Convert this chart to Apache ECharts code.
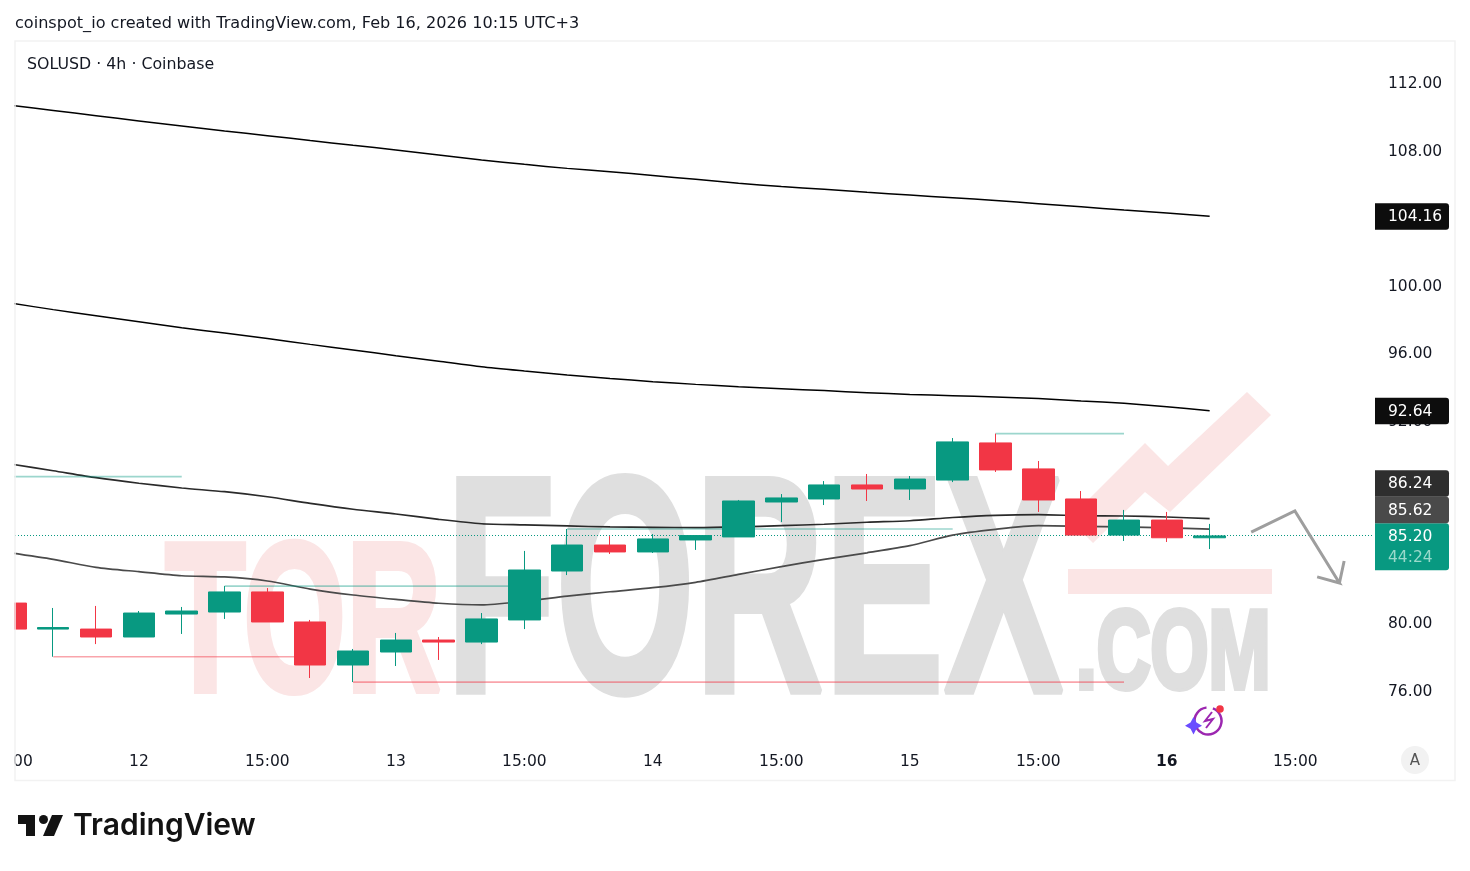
<!DOCTYPE html>
<html><head><meta charset="utf-8">
<style>html,body{margin:0;padding:0;background:#fff}#c{width:1470px;height:871px}</style>
<script src="https://cdn.jsdelivr.net/npm/echarts@6/dist/echarts.min.js"></script>
</head><body><div id="c"></div>
<script>
const FONT = '"DejaVu Sans"';
const FS = 15.5;
const tickLabels = ['15:00','','','12','','','15:00','','','13','','','15:00','','','14','','','15:00','','','15','','','15:00','','','16','','','15:00',''];
// candles: [open, close, low, high]
const candles = [
[81.24,79.70,79.70,81.24],[79.70,79.79,78.06,80.95],[79.70,79.23,78.81,81.07],[79.23,80.65,79.23,80.77],
[80.59,80.77,79.41,81.01],[80.71,81.90,80.30,82.25],[81.90,80.12,80.12,82.13],[80.12,77.57,76.80,80.24],
[77.57,78.40,76.56,78.52],[78.34,79.05,77.51,79.47],[79.05,78.93,77.87,79.23],[78.93,80.30,78.81,80.65],
[80.24,83.20,79.70,84.33],[83.14,84.68,82.90,85.63],[84.68,84.27,84.15,85.21],[84.27,85.04,84.21,85.33],
[84.98,85.24,84.39,85.27],[85.16,87.29,85.16,87.35],[87.23,87.47,86.04,87.70],[87.41,88.24,87.05,88.47],
[88.24,88.00,87.29,88.89],[88.00,88.59,87.35,88.77],[88.53,90.79,88.41,91.02],[90.73,89.13,89.01,91.28],
[89.19,87.35,86.64,89.66],[87.41,85.27,85.27,87.88],[85.27,86.16,84.92,86.76],[86.16,85.11,84.86,86.64],
[85.11,85.22,84.44,85.93]];
const maA = [110.74,110.43,110.12,109.81,109.51,109.21,108.94,108.65,108.37,108.09,107.79,107.50,107.24,107.00,106.80,106.58,106.35,106.12,105.92,105.76,105.58,105.42,105.26,105.10,104.91,104.72,104.53,104.36,104.16];
const maB = [99.02,98.63,98.27,97.91,97.56,97.24,96.92,96.57,96.24,95.90,95.57,95.24,94.99,94.76,94.55,94.36,94.20,94.06,93.94,93.83,93.71,93.60,93.53,93.45,93.36,93.22,93.08,92.88,92.64];
const maC = [89.48,89.08,88.67,88.34,88.06,87.84,87.54,87.15,86.80,86.52,86.20,85.94,85.87,85.81,85.75,85.73,85.71,85.75,85.83,85.91,86.03,86.12,86.31,86.44,86.48,86.42,86.40,86.34,86.24];
const maD = [84.21,83.83,83.36,83.10,82.86,82.79,82.55,82.07,81.72,81.46,81.23,81.13,81.35,81.65,81.91,82.15,82.47,82.94,83.40,83.83,84.22,84.64,85.27,85.61,85.83,85.79,85.75,85.70,85.62];
// pivot levels: start bar, end bar, price
const levelsUp = [[0,4,88.73],[5,12,82.25],[13,22,85.63],[23,26,91.28]];
const levelsDown = [[1,7,78.06],[8,26,76.56]];
const lastPrice = 85.20;
const countdown = '44:24';
const tagValues = [85.20,85.62,86.24,92.64,104.16];
const tagColors = ['#089981','#4a4a4a','#2e2e2e','#0d0d0d','#0d0d0d'];
// hand-drawn arrow: bar position, price
const arrowX = [28.97,29.99,31.03,30.51,31.03,31.14];
const arrowY = [85.45,86.70,82.43,82.79,82.43,83.73];

const INK = '#131722';
const seriesLine = (d,c,w) => ({type:'line',data:d,symbol:'none',silent:true,z:2,smooth:0.25,lineStyle:{color:c,width:w},animation:false});
const levelSeries = (l,c) => ({type:'line',data:tickLabels.map((_,i)=> i>=l[0]&&i<=l[1]?l[2]:null),symbol:'none',z:2,silent:true,animation:false,lineStyle:{color:c,width:1.7}});

const tagSeries = {
  type:'custom',z:20,clip:false,silent:true,animation:false,
  data:tagValues.map((v,i)=>[0,v,i]),encode:{x:0,y:1},
  renderItem(p,api){
    const idx=api.value(2), h=26.5, lastBottomH=47;
    // stack labels upward so they never overlap
    let ys=[],top=Infinity;
    tagValues.forEach((v,i)=>{
      let y=api.coord([0,v])[1];
      let t=y-13; if(i>0 && t+h>top) t=top-h;
      ys[i]=t; top=t;
    });
    const t=ys[idx], H= idx===0?lastBottomH:h;
    const kids=[
      {type:'rect',shape:{x:1375,y:t,width:74,height:H,r:[0,3,3,0]},style:{fill:tagColors[idx]}},
      {type:'text',style:{text:tagValues[idx].toFixed(2),x:1388,y:t+14,fill:'#fff',font:FS+'px '+FONT,verticalAlign:'middle'}}
    ];
    if(idx===0) kids.push({type:'text',style:{text:countdown,x:1388,y:t+35,fill:'#9ad9cb',font:FS+'px '+FONT,verticalAlign:'middle'}});
    return {type:'group',children:kids};
  }
};
const priceLine = {
  type:'custom',z:1,clip:false,silent:true,animation:false,data:[[0,lastPrice]],encode:{x:0,y:1},
  renderItem(p,api){
    const y=Math.round(api.coord([0,api.value(1)])[1])-0.5;
    return {type:'line',shape:{x1:15,y1:y,x2:1373,y2:y},style:{stroke:'#089981',lineWidth:1,lineDash:[1,2]}};
  }
};

const W='#fbe5e5', G='#dfdfdf';
const wm=(t,x,y,fs,sx,c)=>({type:'text',z:0,x,y,scaleX:sx,silent:true,style:{text:t,font:'bold '+fs+'px "Liberation Sans"',fill:c,stroke:c,lineWidth:6,verticalAlign:'bottom'}});
const LOGO='#131313', PUR='#9c27b0';
const graphics=[
  wm('TOR',165,739,213,0.62,W),
  wm('FOREX',446,761,309,0.58,G),
  wm('.COM',1076,713,112,0.665,G),
  {type:'rect',z:0,silent:true,shape:{x:1068,y:569,width:204,height:25},style:{fill:W}},
  {type:'polygon',z:0,silent:true,shape:{points:[[1069,519],[1145,443],[1168,466],[1247,392],[1271,415],[1170,512],[1145,492],[1093,543]]},style:{fill:W}},
  // left cover, frame
  {type:'rect',z:50,silent:true,shape:{x:0,y:0,width:14,height:871},style:{fill:'#fff'}},
  {type:'rect',z:51,silent:true,shape:{x:15,y:41,width:1440,height:739.5},style:{fill:'none',stroke:'#f2f2f2',lineWidth:1.5}},
  {type:'text',z:52,x:15,y:24,silent:true,style:{text:'coinspot_io created with TradingView.com, Feb 16, 2026 10:15 UTC+3',font:'16.1px '+FONT,fill:INK,verticalAlign:'middle'}},
  {type:'text',z:52,x:27,y:65,silent:true,style:{text:'SOLUSD · 4h · Coinbase',font:'15.8px '+FONT,fill:INK,verticalAlign:'middle'}},
  // auto button
  {type:'circle',z:52,silent:true,shape:{cx:1415,cy:760,r:14},style:{fill:'#f2f2f2'}},
  {type:'text',z:53,x:1415,y:761,silent:true,style:{text:'A',font:'15px '+FONT,fill:'#555',align:'center',verticalAlign:'middle'}},
  // TradingView logo
  {type:'polygon',z:52,silent:true,shape:{points:[[18,815],[35,815],[35,836],[26,836],[26,824],[18,824]]},style:{fill:LOGO}},
  {type:'circle',z:52,silent:true,shape:{cx:43.5,cy:819.5,r:4.5},style:{fill:LOGO}},
  {type:'polygon',z:52,silent:true,shape:{points:[[52,815],[63,815],[54,836],[43,836]]},style:{fill:LOGO}},
  {type:'text',z:52,x:73,y:826,silent:true,style:{text:'TradingView',font:'600 30px Inter',fill:LOGO,verticalAlign:'middle'}},
  // lightning icon
  {type:'arc',z:52,silent:true,shape:{cx:1208,cy:721,r:13.5,startAngle:-1.2,endAngle:2.6,clockwise:true},style:{fill:'none',stroke:PUR,lineWidth:2.5}},
  {type:'arc',z:52,silent:true,shape:{cx:1208,cy:721,r:13.5,startAngle:3.0,endAngle:4.6,clockwise:true},style:{fill:'none',stroke:PUR,lineWidth:2.5}},
  {type:'polyline',z:52,silent:true,shape:{points:[[1212,712],[1205,721],[1213,719],[1206,728]]},style:{fill:'none',stroke:PUR,lineWidth:2}},
  {type:'polygon',z:53,silent:true,shape:{points:[[1193.5,717],[1196.5,722.5],[1202,725.7],[1196.5,728.8],[1193.5,734.5],[1190.5,728.8],[1185,725.7],[1190.5,722.5]]},style:{fill:'#6a4cff'}},
  {type:'circle',z:53,silent:true,shape:{cx:1220,cy:709,r:3.8},style:{fill:'#f23645'}}
];

const chart=echarts.init(document.getElementById('c'),null,{renderer:'canvas'});
chart.setOption({
  animation:false,backgroundColor:'#fff',
  grid:{left:-11,top:16.5,width:1370.56,height:742.5,containLabel:false,outerBoundsMode:'none'},
  xAxis:[
    {type:'category',data:tickLabels,boundaryGap:true,axisLine:{show:false},axisTick:{show:false},splitLine:{show:false},
     axisLabel:{interval:0,margin:-5,fontFamily:FONT,fontSize:FS,color:INK,hideOverlap:false,
       formatter:v=>v==='16'?'{b|16}':v,rich:{b:{fontFamily:FONT,fontSize:FS,fontWeight:'bold',color:INK}}}},
    {type:'value',show:false,min:-0.5,max:31.5}
  ],
  yAxis:{type:'value',position:'right',min:72,max:116,interval:4,axisLine:{show:false},axisTick:{show:false},splitLine:{show:false},
    axisLabel:{margin:28.44,fontFamily:FONT,fontSize:FS,color:INK,showMinLabel:false,showMaxLabel:false,padding:[4,0,0,0],formatter:v=>v.toFixed(2)}},
  graphic:graphics,
  series:[
    priceLine,
    seriesLine(maA,'#000000',1.5),seriesLine(maB,'#000000',1.5),seriesLine(maC,'#2a2a2a',1.7),seriesLine(maD,'#4a4a4a',1.7),
    ...levelsUp.map(l=>levelSeries(l,'rgba(8,153,129,0.4)')),
    ...levelsDown.map(l=>levelSeries(l,'rgba(242,54,69,0.45)')),
    {type:'candlestick',z:3,data:candles,barWidth:32,silent:true,animation:false,
     itemStyle:{color:'#089981',color0:'#F23645',borderColor:'#089981',borderColor0:'#F23645',borderWidth:1}},
    {type:'line',xAxisIndex:1,z:6,silent:true,animation:false,symbol:'none',data:arrowX.map((x,i)=>[x,arrowY[i]]),
     lineStyle:{color:'#9e9e9e',width:3,join:'miter'}},
    tagSeries
  ]
});
</script></body></html>
